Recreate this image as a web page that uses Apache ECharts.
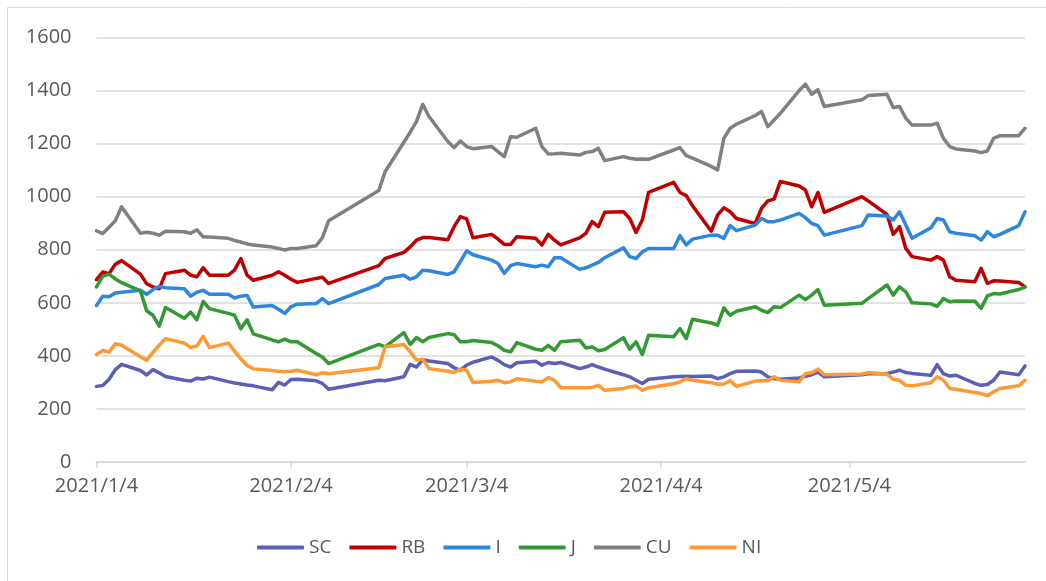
<!DOCTYPE html>
<html>
<head>
<meta charset="utf-8">
<script src="https://cdn.jsdelivr.net/npm/echarts@6/dist/echarts.min.js"></script>
<style>
html,body{margin:0;padding:0;background:#fff;}
#chart{width:1046px;height:581px;}
</style>
</head>
<body>
<div id="chart"></div>
<script>
const dates = [
 '2021/1/4','2021/1/5','2021/1/6','2021/1/7','2021/1/8','2021/1/11','2021/1/12','2021/1/13','2021/1/14','2021/1/15',
 '2021/1/18','2021/1/19','2021/1/20','2021/1/21','2021/1/22','2021/1/25','2021/1/26','2021/1/27','2021/1/28','2021/1/29',
 '2021/2/1','2021/2/2','2021/2/3','2021/2/4','2021/2/5','2021/2/8','2021/2/9','2021/2/10','2021/2/18','2021/2/19',
 '2021/2/22','2021/2/23','2021/2/24','2021/2/25','2021/2/26',
 '2021/3/1','2021/3/2','2021/3/3','2021/3/4','2021/3/5','2021/3/8','2021/3/9','2021/3/10','2021/3/11','2021/3/12',
 '2021/3/15','2021/3/16','2021/3/17','2021/3/18','2021/3/19','2021/3/22','2021/3/23','2021/3/24','2021/3/25','2021/3/26',
 '2021/3/29','2021/3/30','2021/3/31',
 '2021/4/1','2021/4/2','2021/4/6','2021/4/7','2021/4/8','2021/4/9','2021/4/12','2021/4/13','2021/4/14','2021/4/15',
 '2021/4/16','2021/4/19','2021/4/20','2021/4/21','2021/4/22','2021/4/23','2021/4/26','2021/4/27','2021/4/28','2021/4/29','2021/4/30',
 '2021/5/6','2021/5/7','2021/5/10','2021/5/11','2021/5/12','2021/5/13','2021/5/14','2021/5/17','2021/5/18','2021/5/19',
 '2021/5/20','2021/5/21','2021/5/24','2021/5/25','2021/5/26','2021/5/27','2021/5/28','2021/5/31','2021/6/1'
];
const SC = [
 285,288,312,348,368,345,328,348,336,322,308,305,316,313,320,303,298,294,290,287,
 272,300,290,311,312,306,296,274,308,306,321,368,358,386,381,
 371,355,346,365,376,396,383,367,358,374,380,365,375,371,375,352,358,367,358,350,329,321,308,
 296,312,321,322,323,322,324,314,321,333,342,343,339,321,314,312,317,323,329,339,321,
 329,333,333,339,346,337,334,327,367,333,324,327,296,289,292,308,339,329,
 362
];
const RB = [
 687,716,710,745,759,708,672,660,653,710,723,704,698,732,704,704,723,767,704,685,
 704,717,704,689,677,692,696,673,740,767,790,811,836,846,846,
 838,887,925,916,845,858,840,820,820,849,843,818,858,836,818,845,862,906,887,941,943,918,865,
 912,1016,1054,1016,1004,966,870,931,958,943,918,899,956,984,991,1057,1040,1025,962,1016,941,
 1000,984,933,858,887,805,774,761,774,761,698,685,679,730,673,683,682,677,
 660
];
const I = [
 590,625,623,637,640,647,632,650,662,657,653,625,640,647,632,632,618,625,628,584,
 590,576,560,585,595,597,616,597,669,692,704,689,698,723,721,
 707,717,755,796,781,761,748,711,740,748,736,742,736,770,770,726,732,742,752,770,807,774,767,
 792,805,805,853,818,840,855,855,843,891,872,893,918,906,906,912,937,921,899,891,855,
 891,931,927,912,943,893,843,883,918,912,868,862,853,836,868,849,858,891,
 943
];
const J = [
 660,700,708,690,676,645,570,553,512,582,542,565,536,605,578,560,553,502,536,483,
 460,453,463,453,453,409,396,371,443,434,488,443,469,453,469,
 484,480,453,453,458,450,438,421,415,450,425,421,440,421,453,459,430,434,419,424,468,425,453,
 405,478,472,503,465,538,524,516,581,553,568,585,572,563,585,582,629,612,629,650,591,
 598,616,667,629,660,641,600,596,587,616,604,607,606,579,626,635,633,650,
 659
];
const CU = [
 871,861,885,909,962,862,866,862,855,870,868,862,875,849,848,843,835,829,822,818,
 810,805,799,805,805,815,845,909,1023,1094,1205,1243,1283,1348,1302,
 1208,1185,1210,1189,1181,1189,1170,1151,1226,1224,1258,1189,1161,1162,1164,1157,1167,1170,1182,1136,1151,1145,1141,
 1142,1141,1176,1185,1155,1145,1114,1101,1220,1258,1273,1306,1321,1264,1289,1314,1400,1424,1386,1403,1340,
 1365,1381,1386,1336,1340,1296,1270,1270,1277,1220,1189,1180,1172,1166,1172,1220,1230,1230,
 1258
];
const NI = [
 405,420,414,446,440,397,384,413,440,465,448,431,437,474,431,448,418,389,364,351,
 345,342,340,342,346,329,336,333,355,434,443,415,384,387,352,
 342,337,350,346,300,304,308,299,302,314,304,302,318,308,280,280,280,281,289,270,277,283,287,
 270,280,295,302,314,308,299,293,294,306,285,305,306,306,321,308,302,333,336,350,329,
 332,337,331,311,308,289,287,299,321,308,277,274,262,258,250,265,277,287,
 308
];
const tickLabels = ['2021/1/4','2021/2/4','2021/3/4','2021/4/4','2021/5/4'];
const seriesNames = ['SC','RB','I','J','CU','NI'];
const seriesColors = ['#5B5FB5','#C00000','#2E86DE','#339933','#808080','#FF9933'];

function ts(s){ const p = s.split('/').map(Number); return Date.UTC(p[0], p[1]-1, p[2]); }
const xs = dates.map(ts);
const tickTs = tickLabels.map(ts);
const seriesData = [SC, RB, I, J, CU, NI];
const FONT = 'Open Sans';

const chart = echarts.init(document.getElementById('chart'), null, {renderer: 'canvas'});
chart.setOption({
  animation: false,
  backgroundColor: '#fff',
  color: seriesColors,
  graphic: [
    {type: 'line', shape: {x1: 7.5, y1: 7.5, x2: 7.5, y2: 581}, style: {stroke: '#D9D9D9', lineWidth: 1}},
    {type: 'line', shape: {x1: 7.5, y1: 7.5, x2: 1046, y2: 7.5}, style: {stroke: '#D9D9D9', lineWidth: 1}}
  ],
  grid: {left: 96.5, right: 21, top: 37.5, bottom: 119, outerBoundsMode: 'none'},
  legend: {
    left: 252, top: 533,
    itemWidth: 47, itemHeight: 4, itemGap: 18,
    icon: 'roundRect',
    textStyle: {color: '#595959', fontSize: 19, fontFamily: FONT},
    data: seriesNames
  },
  xAxis: {
    type: 'value',
    min: ts('2021/1/4'), max: ts('2021/6/1'),
    axisLine: {show: true, lineStyle: {color: '#D9D9D9', width: 1.5}},
    axisTick: {show: true, customValues: tickTs, length: 6, lineStyle: {color: '#D9D9D9', width: 1.5}},
    splitLine: {show: false},
    axisLabel: {
      customValues: tickTs, showMinLabel: true, showMaxLabel: true, hideOverlap: false,
      color: '#595959', fontSize: 20, fontFamily: FONT, margin: 14,
      formatter: function (v) { const d = new Date(v); return d.getUTCFullYear() + '/' + (d.getUTCMonth()+1) + '/' + d.getUTCDate(); }
    }
  },
  yAxis: {
    type: 'value', min: 0, max: 1600, interval: 200,
    axisLine: {show: false}, axisTick: {show: false},
    splitLine: {lineStyle: {color: '#D9D9D9', width: 1.5}},
    axisLabel: {color: '#595959', fontSize: 20, fontFamily: FONT, margin: 25,
      formatter: function (v) { return String(v); }}
  },
  series: seriesNames.map((n, k) => ({
    name: n, type: 'line', showSymbol: false, symbol: 'none',
    lineStyle: {width: 3.5, color: seriesColors[k], cap: 'round', join: 'round'},
    itemStyle: {color: seriesColors[k]},
    data: xs.map((t, i) => [t, seriesData[k][i]])
  }))
});
</script>
</body>
</html>
